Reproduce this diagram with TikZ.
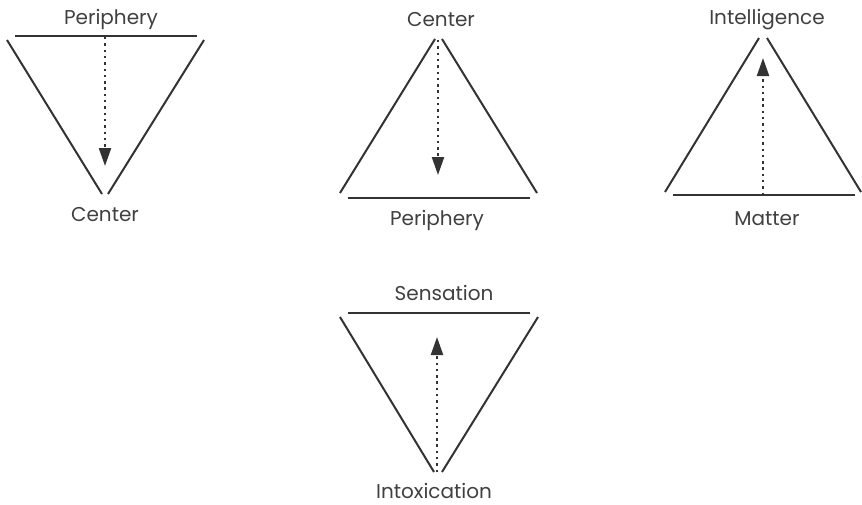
\documentclass[tikz,border=0pt]{standalone}
\usepackage{fontspec}
\setmainfont{Poppins}
\usetikzlibrary{arrows.meta}
\definecolor{ink}{HTML}{333333}
\definecolor{inktext}{HTML}{404040}

\begin{document}
\begin{tikzpicture}[x=1pt, y=-1pt,
		side/.style={draw=ink, line width=2pt},
		flow/.style={draw=ink, line width=2.2pt, dash pattern=on 2.4pt off 3.9pt, -{Triangle[length=18pt, width=12pt]}},
		word/.style={text=inktext, font=\fontsize{20}{24}\selectfont, anchor=base, inner sep=0pt}]
				\useasboundingbox (0,0) rectangle (862,504);
				% periphery -> center (inverted)
				\node[word] (per1) at (111, 24) {Periphery};
				\node[word] (cen1) at (105, 221) {Center};
				\coordinate (t1a) at (15, 36);
				\coordinate (t1b) at (197, 36);
				\coordinate (l1a) at (7, 40);
				\coordinate (l1b) at (102, 194);
				\coordinate (r1a) at (204, 40);
				\coordinate (r1b) at (108, 194);
				\coordinate (s1) at (105, 37);
				\coordinate (e1) at (105, 166);
				\draw[side] (t1a) -- (t1b);
				\draw[side] (l1a) -- (l1b);
				\draw[side] (r1a) -- (r1b);
				\draw[flow] (s1) to (e1);
				% center -> periphery
				\node[word] (cen2) at (441, 26) {Center};
				\node[word] (per2) at (437, 225) {Periphery};
				\coordinate (l2a) at (340, 193);
				\coordinate (l2b) at (435, 39);
				\coordinate (r2a) at (442, 39);
				\coordinate (r2b) at (537, 193);
				\coordinate (b2a) at (348, 198);
				\coordinate (b2b) at (530, 198);
				\coordinate (s2) at (438, 40);
				\coordinate (e2) at (438, 175);
				\draw[side] (l2a) -- (l2b);
				\draw[side] (r2a) -- (r2b);
				\draw[side] (b2a) -- (b2b);
				\draw[flow] (s2) to (e2);
				% matter -> intelligence
				\node[word] (int3) at (767, 24) {Intelligence};
				\node[word] (mat3) at (767, 225) {Matter};
				\coordinate (l3a) at (665, 192);
				\coordinate (l3b) at (759, 38);
				\coordinate (r3a) at (767, 38);
				\coordinate (r3b) at (861, 192);
				\coordinate (b3a) at (673, 195);
				\coordinate (b3b) at (855, 195);
				\coordinate (s3) at (763, 195);
				\coordinate (e3) at (763, 58);
				\draw[side] (l3a) -- (l3b);
				\draw[side] (r3a) -- (r3b);
				\draw[side] (b3a) -- (b3b);
				\draw[flow] (s3) to (e3);
				% intoxication -> sensation (inverted)
				\node[word] (sen4) at (444, 300) {Sensation};
				\node[word] (itx4) at (434, 498) {Intoxication};
				\coordinate (t4a) at (348, 313);
				\coordinate (t4b) at (530, 313);
				\coordinate (l4a) at (340, 317);
				\coordinate (l4b) at (434, 472);
				\coordinate (r4a) at (538, 317);
				\coordinate (r4b) at (442, 472);
				\coordinate (s4) at (437, 472);
				\coordinate (e4) at (437, 337);
				\draw[side] (t4a) -- (t4b);
				\draw[side] (l4a) -- (l4b);
				\draw[side] (r4a) -- (r4b);
				\draw[flow] (s4) to (e4);
\end{tikzpicture}
\end{document}
